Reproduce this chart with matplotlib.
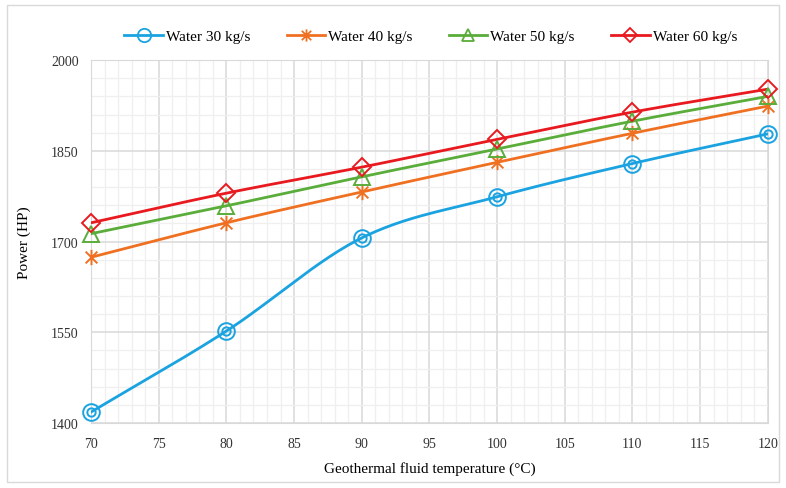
import numpy as np
import matplotlib
matplotlib.use('Agg')
import matplotlib.pyplot as plt
from matplotlib.path import Path
from matplotlib.patches import Rectangle

temps = [70, 80, 90, 100, 110, 120]
water_30 = [1418, 1552, 1706, 1774, 1829, 1878]
water_40 = [1674, 1731, 1782, 1831, 1879, 1924]
water_50 = [1713, 1759, 1807, 1853, 1899, 1940]
water_60 = [1731, 1780, 1823, 1869, 1914, 1952]
labels = ['Water 30 kg/s', 'Water 40 kg/s', 'Water 50 kg/s', 'Water 60 kg/s']

plt.rcParams['font.family'] = ['Liberation Serif', 'DejaVu Serif']


def smooth(x, y, n=30):
    # catmull-rom curve through the points, like a spreadsheet "smoothed line"
    x = np.asarray(x, float)
    y = np.asarray(y, float)
    px = np.concatenate([[2 * x[0] - x[1]], x, [2 * x[-1] - x[-2]]])
    py = np.concatenate([[2 * y[0] - y[1]], y, [2 * y[-1] - y[-2]]])
    xs, ys = [], []
    t = np.linspace(0, 1, n)
    for i in range(1, len(px) - 2):
        for p, out in ((px, xs), (py, ys)):
            p0, p1, p2, p3 = p[i - 1], p[i], p[i + 1], p[i + 2]
            out.extend(0.5 * (2 * p1 + (-p0 + p2) * t
                              + (2 * p0 - 5 * p1 + 4 * p2 - p3) * t ** 2
                              + (-p0 + 3 * p1 - 3 * p2 + p3) * t ** 3))
    return xs, ys


# star marker: an X with a vertical stroke
star = Path([(-1, -1), (1, 1), (-1, 1), (1, -1), (0, -1.3), (0, 1.3)],
            [Path.MOVETO, Path.LINETO, Path.MOVETO, Path.LINETO, Path.MOVETO, Path.LINETO])

fig = plt.figure(figsize=(7.86, 4.89), dpi=100)
ax = fig.add_axes([0.1158, 0.133, 0.861, 0.742])

fig.patches.append(Rectangle((0.009, 0.012), 0.982, 0.976, transform=fig.transFigure,
                             fill=False, edgecolor='#d9d9d9', linewidth=1))

series = [
    (water_30, '#1aa3e0', 'o', 12),
    (water_40, '#f07022', star, 11),
    (water_50, '#5aad3a', '^', 11),
    (water_60, '#e8191f', 'D', 9.5),
]
handles = []
for (vals, color, mk, ms), lab in zip(series, labels):
    sx, sy = smooth(temps, vals)
    ax.plot(sx, sy, color=color, lw=2, zorder=3)
    ax.plot(temps, vals, linestyle='none', marker=mk, markersize=ms, clip_on=False,
            markerfacecolor='none', markeredgecolor=color, markeredgewidth=1.4, zorder=4)
    if vals is water_30:
        ax.plot(temps, vals, linestyle='none', marker='o', markersize=6, clip_on=False,
                markerfacecolor='none', markeredgecolor=color, markeredgewidth=1.4, zorder=4)
    h, = ax.plot([], [], color=color, lw=2, marker=mk, markersize=ms * 0.8,
                 markerfacecolor='none', markeredgecolor=color, markeredgewidth=1.3, label=lab)
    handles.append(h)

ax.set_xlim(70, 120)
ax.set_ylim(1400, 2000)
ax.set_xticks(np.arange(70, 121, 5))
ax.set_xticks(np.arange(70, 121, 1), minor=True)
ax.set_yticks(np.arange(1400, 2001, 150))
ax.set_yticks(np.arange(1400, 2001, 30), minor=True)
ax.grid(which='major', color='#d9d9d9', lw=1.1)
ax.grid(which='minor', color='#efefef', lw=0.9)
ax.set_axisbelow(True)
for s in ax.spines.values():
    s.set_color('#d9d9d9')
ax.tick_params(which='both', length=0, labelsize=10, colors='#333333')
ax.tick_params(axis='x', pad=10)
ax.tick_params(axis='y', pad=9)

ax.set_xlabel('Geothermal fluid temperature (°C)', fontsize=11, labelpad=8)
ax.set_ylabel('Power (HP)', fontsize=11, labelpad=14)

fig.legend(handles=handles, loc='center', bbox_to_anchor=(0.548, 0.924), ncol=4,
           frameon=False, fontsize=11, handlelength=2.5, columnspacing=2.4,
           handletextpad=0.2)

fig.savefig('out.png', dpi=100)
